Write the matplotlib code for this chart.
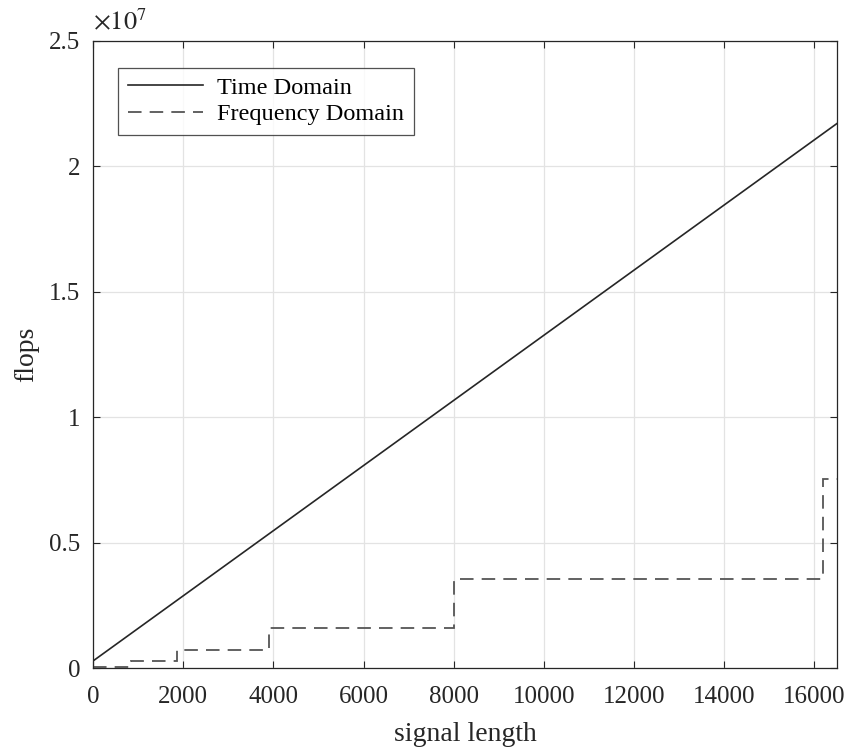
import matplotlib
matplotlib.use("Agg")
import matplotlib.pyplot as plt
from matplotlib.ticker import FuncFormatter

plt.rcParams['font.family'] = ['Liberation Serif', 'DejaVu Serif']
plt.rcParams['mathtext.fontset'] = 'stix'

# direct convolution cost grows linearly with the signal length
signal_length = [0, 16500]
time_flops = [2.8e5, 2.17e7]

# FFT cost jumps each time the padded length hits the next power of two
freq_edges = [0, 840, 1864, 3912, 8008, 16200, 16500]
freq_flops = [0.5e5, 3.0e5, 7.2e5, 1.61e6, 3.55e6, 7.55e6]

x_ticks = [0, 2000, 4000, 6000, 8000, 10000, 12000, 14000, 16000]
y_ticks = [0, 0.5e7, 1e7, 1.5e7, 2e7, 2.5e7]

fig = plt.figure(figsize=(8.5, 7.49), dpi=100)
ax = fig.add_axes([0.1094, 0.1081, 0.8753, 0.8376])

ax.plot(signal_length, time_flops, color='#262626', lw=1.2, label='Time Domain')
ax.stairs(freq_flops, freq_edges, color='#555555', lw=1.3,
          linestyle=(0, (7.5, 4.5)), baseline=None, label='Frequency Domain')

ax.set_xlim(0, 16500)
ax.set_ylim(0, 2.5e7)
ax.set_xticks(x_ticks)
ax.set_yticks(y_ticks)
ax.yaxis.set_major_formatter(FuncFormatter(lambda v, p: '%g' % (v / 1e7)))
ax.tick_params(direction='in', length=5, width=0.8, top=True, right=True,
               labelsize=18, colors='#262626')
ax.tick_params(axis='x', pad=13)
ax.tick_params(axis='y', pad=9)
ax.grid(True, color='#e3e3e3', lw=0.9)
ax.set_axisbelow(True)
for s in ax.spines.values():
    s.set_color('#262626')
    s.set_linewidth(0.9)

ax.text(0.0, 1.008, r'$\times10^{7}$', transform=ax.transAxes, fontsize=19,
        color='#262626', ha='left', va='bottom')

ax.set_xlabel('signal length', fontsize=20, color='#262626', labelpad=10)
ax.set_ylabel('flops', fontsize=20, color='#262626', labelpad=7)

leg = ax.legend(loc='upper left', bbox_to_anchor=(0.034, 0.957), fontsize=17.5,
                frameon=True, fancybox=False, edgecolor='#262626',
                handlelength=3.1, borderpad=0.38, labelspacing=0.18,
                handletextpad=0.6, borderaxespad=0)
leg.get_frame().set_linewidth(0.9)

fig.savefig('out.png', dpi=100)
